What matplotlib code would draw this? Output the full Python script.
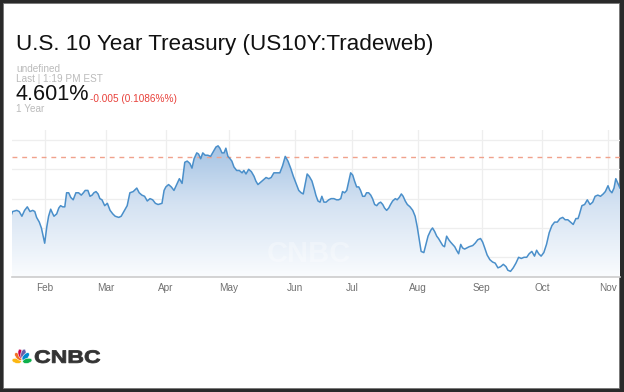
import matplotlib.pyplot as plt
import numpy as np
from matplotlib.patches import Rectangle, Ellipse, Polygon, PathPatch
from matplotlib.colors import LinearSegmentedColormap
from matplotlib.textpath import TextPath
from matplotlib.font_manager import FontProperties
from matplotlib.transforms import Affine2D

plt.rcParams['font.family'] = ['Liberation Sans', 'DejaVu Sans']

# trading-day index (0 = mid Jan) and 10y yield in percent
day = [-0.7, 0.2, 1.6, 2.4, 3.3, 4.2, 5.1, 6.0, 6.9, 7.6,
       8.2, 9.1, 9.8, 10.4, 10.9, 11.6, 12.2, 12.9, 13.6, 14.0,
       14.9, 15.6, 16.2, 16.9, 17.6, 18.2, 18.9, 19.6, 20.4, 21.3,
       22.2, 23.1, 23.8, 24.4, 25.3, 26.0, 26.7, 27.3, 28.0, 28.7,
       29.3, 30.0, 30.9, 31.8, 32.7, 33.6, 34.4, 35.6, 36.4, 37.3,
       38.4, 39.3, 40.4, 41.6, 42.4, 43.3, 44.2, 45.1, 46.0, 46.9,
       47.8, 48.7, 50.0,
       50.7, 51.3, 52.2, 53.1, 54.0, 54.9, 55.8, 56.7, 57.6, 58.4,
       59.3, 60.0, 60.7, 61.6, 62.2, 62.9, 63.6, 64.4, 65.3, 66.2,
       67.1, 68.0, 68.7, 69.3, 70.0, 70.7, 71.3, 72.0, 72.7, 73.3,
       74.0, 74.9, 75.8, 76.7, 77.3, 78.0, 78.9, 79.8, 80.7, 81.3,
       82.0, 82.9, 83.8, 84.7, 85.6, 86.4, 87.3, 88.2, 89.3, 90.2,
       91.1, 92.0, 92.9, 93.8, 94.7, 95.6, 96.4, 97.1, 97.8, 98.4,
       99.1, 100.0, 100.9,
       101.3, 102.0, 102.7, 103.3, 104.0, 104.7, 105.6, 106.4, 107.3, 108.2,
       108.9, 109.6, 110.2, 110.9, 111.6, 112.2, 112.9, 113.6, 114.2, 114.9,
       115.6, 116.2, 116.9, 117.6, 118.2, 118.9, 119.6, 120.2, 120.9, 121.6,
       122.2, 122.9, 123.6, 124.2, 124.9, 125.6, 126.2, 126.9, 127.8, 128.4,
       129.1, 129.8, 130.4, 131.1, 131.8, 132.7, 133.6, 134.4, 135.1, 135.8,
       136.4, 137.3, 138.0, 138.7, 139.6, 140.2, 140.9, 141.6, 142.2, 142.9,
       143.6, 144.2, 144.9, 145.6, 146.2, 146.9, 147.6, 148.2, 148.9, 149.6,
       150.2, 150.9,
       152.4, 153.6, 154.4, 155.3, 156.2, 156.9, 157.6, 158.4, 159.3, 160.2,
       161.1, 162.0, 162.9, 163.8, 164.7, 165.3, 166.2, 167.1, 168.0, 168.9,
       169.8, 170.7, 171.6, 172.4, 173.3, 174.2, 174.9, 175.6, 176.4, 177.3,
       178.2, 179.1, 180.0, 180.9, 181.8, 182.7, 183.6, 184.4, 185.3, 186.2,
       187.1, 188.0, 188.7, 189.1, 190.0, 190.9, 191.8, 192.7, 193.6, 194.4,
       195.3, 196.2, 197.1, 197.8, 198.7, 199.3, 200.0, 200.7, 201.3, 202.0,
       202.7]
yld = [4.08, 4.14, 4.15, 4.14, 4.10, 4.15, 4.18, 4.14, 4.15, 4.14,
       4.09, 4.05, 4.00, 3.93, 3.87, 4.01, 4.10, 4.16, 4.12, 4.10,
       4.12, 4.17, 4.19, 4.18, 4.18, 4.30, 4.30, 4.26, 4.24, 4.30,
       4.30, 4.28, 4.30, 4.32, 4.32, 4.27, 4.28, 4.30, 4.31, 4.29,
       4.25, 4.24, 4.19, 4.21, 4.15, 4.12, 4.10, 4.09, 4.10, 4.14,
       4.19, 4.30, 4.31, 4.34, 4.30, 4.28, 4.27, 4.23, 4.25, 4.24,
       4.21, 4.20, 4.21,
       4.32, 4.35, 4.37, 4.35, 4.32, 4.37, 4.42, 4.38, 4.56, 4.57,
       4.55, 4.51, 4.59, 4.64, 4.63, 4.59, 4.64, 4.62, 4.62, 4.61,
       4.65, 4.69, 4.70, 4.68, 4.64, 4.64, 4.68, 4.61, 4.59, 4.57,
       4.52, 4.49, 4.49, 4.47, 4.49, 4.46, 4.50, 4.48, 4.44, 4.40,
       4.37, 4.39, 4.41, 4.43, 4.42, 4.43, 4.47, 4.47, 4.47, 4.53,
       4.61, 4.57, 4.51, 4.44, 4.38, 4.32, 4.30, 4.29, 4.38, 4.46,
       4.44, 4.40, 4.32,
       4.28, 4.23, 4.22, 4.27, 4.22, 4.22, 4.24, 4.25, 4.25, 4.24,
       4.24, 4.25, 4.31, 4.30, 4.32, 4.39, 4.47, 4.45, 4.40, 4.35,
       4.35, 4.32, 4.27, 4.27, 4.30, 4.30, 4.28, 4.25, 4.20, 4.19,
       4.21, 4.22, 4.20, 4.17, 4.15, 4.17, 4.20, 4.23, 4.25, 4.24,
       4.26, 4.29, 4.27, 4.23, 4.20, 4.18, 4.15, 4.10, 4.01, 3.90,
       3.80, 3.79, 3.86, 3.93, 3.98, 4.00, 3.97, 3.93, 3.91, 3.88,
       3.85, 3.84, 3.93, 3.90, 3.88, 3.86, 3.84, 3.81, 3.78, 3.86,
       3.83, 3.82,
       3.84, 3.85, 3.87, 3.90, 3.91, 3.88, 3.83, 3.77, 3.73, 3.71,
       3.70, 3.66, 3.67, 3.69, 3.67, 3.64, 3.63, 3.66, 3.70, 3.75,
       3.74, 3.75, 3.75, 3.78, 3.80, 3.76, 3.81, 3.78, 3.76, 3.79,
       3.86, 3.96, 4.02, 4.05, 4.05, 4.08, 4.09, 4.07, 4.07, 4.05,
       4.03, 4.08, 4.08, 4.11, 4.19, 4.20, 4.24, 4.20, 4.22, 4.27,
       4.28, 4.27, 4.29, 4.31, 4.36, 4.32, 4.30, 4.34, 4.42, 4.38,
       4.34]

months = ['Feb', 'Mar', 'Apr', 'May', 'Jun', 'Jul', 'Aug', 'Sep', 'Oct', 'Nov']
month_day = [11, 31.2, 51.3, 72.3, 94.3, 113.4, 135.4, 156.6, 176.8, 198.8]
grid_levels = [3.75, 4.0, 4.25, 4.5, 4.75]
last_price = 4.601

title = 'U.S. 10 Year Treasury (US10Y:Tradeweb)'
price_text = '4.601%'
change_text = '-0.005 (0.1086%%)'

W, H = 624, 392
fig = plt.figure(figsize=(W / 100, H / 100), dpi=100, facecolor='#2a2a2a')


def fx(px):
    return px / W


def fy(py):
    return 1 - py / H


# white card inside the dark frame
fig.patches.append(Rectangle((fx(3), fy(388)), fx(616), 385 / H, transform=fig.transFigure,
                             facecolor='white', edgecolor='#777777', lw=0.6, zorder=-5))

fig.text(fx(16), fy(50), title, fontsize=16.2, color='#111111', va='baseline')
fig.text(fx(16), fy(72), 'undefined', fontsize=7.2, color='#bbbbbb', va='baseline')
fig.text(fx(16), fy(82.5), 'Last | 1:19 PM EST', fontsize=7.2, color='#bbbbbb', va='baseline')
fig.text(fx(15), fy(99.5), price_text, fontsize=15.6, color='#111111', va='baseline')
fig.text(fx(90), fy(101.5), change_text, fontsize=7.2, color='#e8403a', va='baseline')
fig.text(fx(16), fy(112.5), '1 Year', fontsize=7.2, color='#bbbbbb', va='baseline')

# chart
ymin, ymax = 3.582, 4.835
xmin, xmax = 0, 202.7
ax = fig.add_axes([fx(12), fy(277), fx(608), (277 - 130) / H])
ax.set_facecolor('none')

for g in grid_levels:
    ax.axhline(g, color='#eeeeee', lw=0.9, zorder=1)
for m in month_day:
    ax.axvline(m, color='#eeeeee', lw=0.9, zorder=1)

grad = np.linspace(1, 0, 256).reshape(-1, 1)
cmap = LinearSegmentedColormap.from_list('fade', ['#fafcfe', '#d4e2f2', '#98bbe0'])
im = ax.imshow(grad, extent=[xmin, xmax, ymin, ymax], aspect='auto', cmap=cmap,
               origin='upper', zorder=2)
verts = list(zip(day, yld)) + [(day[-1], ymin), (day[0], ymin)]
clip = Polygon(verts, closed=True, facecolor='none', edgecolor='none')
ax.add_patch(clip)
im.set_clip_path(clip)

# faint watermark
ax.text(99, 3.78, 'CNBC', fontsize=21, fontweight='bold', color='white', alpha=0.3,
        ha='center', va='center', zorder=3)

ax.axhline(last_price, color='#f0a28c', lw=1.0, ls=(0, (3.5, 3.5)), zorder=4)
ax.plot(day, yld, color='#4a8fca', lw=1.1, zorder=5)

ax.set_xlim(xmin, xmax)
ax.set_ylim(ymin, ymax)
ax.set_xticks(month_day)
ax.set_xticklabels(months, fontsize=7.2, color='#707070')
ax.tick_params(axis='x', length=0, pad=4)
ax.set_yticks([])
for s in ['top', 'left', 'right']:
    ax.spines[s].set_visible(False)
ax.spines['bottom'].set_color('#cccccc')
ax.spines['bottom'].set_linewidth(1.2)

# CNBC logo
lax = fig.add_axes([fx(9), fy(364), fx(26), 19 / H])
lax.set_xlim(-1.3, 1.3)
lax.set_ylim(0, 1.9)
lax.axis('off')
feather_colors = ['#fcb711', '#f37021', '#cc004c', '#6460aa', '#0089d0', '#0db14b']
angles = [168, 132, 103, 77, 48, 12]
for c, a in zip(feather_colors, angles):
    t = np.radians(a)
    r = 0.62 if a in (103, 77) else 0.55
    lax.add_patch(Ellipse((r * np.cos(t), 0.15 + r * 1.45 * np.sin(t)), 0.95, 0.5,
                          angle=a, facecolor=c, edgecolor='white', lw=0.4))

tp = TextPath((0, 0), 'CNBC', size=10, prop=FontProperties(family='Liberation Sans', weight='bold'))
ext = tp.get_extents()
sx = 65 / ext.width
sy = 12.7 / ext.height
tr = Affine2D().translate(-ext.x0, -ext.y0).scale(sx, sy).translate(35, H - 363)
fig.patches.append(PathPatch(tp, transform=tr, facecolor='#333333', edgecolor='#333333',
                             lw=0.6, zorder=5))

fig.savefig('out.png', dpi=100, facecolor=fig.get_facecolor())
